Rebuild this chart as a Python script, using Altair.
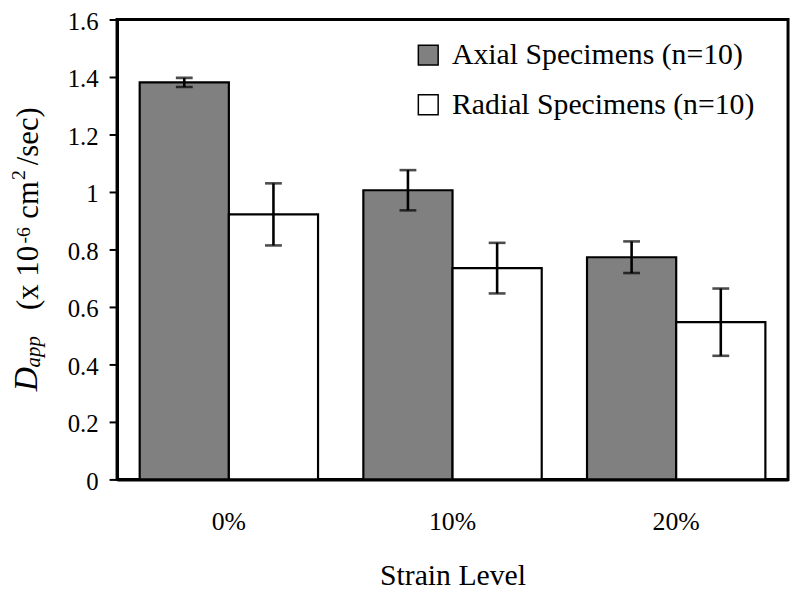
import altair as alt
import pandas as pd

categories = ["0%", "10%", "20%"]
series = ["Axial Specimens (n=10)", "Radial Specimens (n=10)"]
axial = [1.381, 1.006, 0.773]
axial_err = [0.016, 0.070, 0.055]
radial = [0.922, 0.735, 0.547]
radial_err = [0.108, 0.088, 0.117]

rows = []
for c, v, e in zip(categories, axial, axial_err):
    rows.append({"cat": c, "series": series[0], "value": v, "lo": v - e, "hi": v + e})
for c, v, e in zip(categories, radial, radial_err):
    rows.append({"cat": c, "series": series[1], "value": v, "lo": v - e, "hi": v + e})
df = pd.DataFrame(rows)

FONT = "Liberation Serif"

xenc = alt.X("cat:N", sort=categories, title="Strain Level",
             scale=alt.Scale(paddingInner=0, paddingOuter=0),
             axis=alt.Axis(labelAngle=0, ticks=False, labelPadding=30, titlePadding=26,
                           labelFontSize=26))
xoff = alt.XOffset("series:N", sort=series,
                   scale=alt.Scale(paddingInner=0, paddingOuter=0.254))
yscale = alt.Scale(domain=[0, 1.6], nice=False)

base = alt.Chart(df)

bars = base.mark_bar(stroke="black", strokeWidth=2.2).encode(
    x=xenc,
    xOffset=xoff,
    y=alt.Y("value:Q", scale=yscale, title=None,
            axis=alt.Axis(values=[0, 0.2, 0.4, 0.6, 0.8, 1.0, 1.2, 1.4, 1.6],
                          format="~g", tickSize=8, tickWidth=2, labelPadding=11,
                          labelOffset=2, labelFontSize=25)),
    color=alt.Color("series:N", sort=series,
                    scale=alt.Scale(domain=series, range=["#808080", "#ffffff"]),
                    legend=alt.Legend(title=None, orient="none", legendX=299, legendY=21,
                                      symbolType="square", symbolSize=400,
                                      symbolStrokeColor="black", symbolStrokeWidth=1.5,
                                      labelFontSize=30, labelFont=FONT, labelColor="black",
                                      labelOffset=9, rowPadding=20, padding=0,
                                      labelLimit=500)),
)

rules = base.mark_rule(color="black", strokeWidth=2.6).encode(
    x=alt.X("cat:N", sort=categories), xOffset=xoff,
    y=alt.Y("lo:Q", scale=yscale), y2="hi:Q")

caps_lo = base.mark_tick(color="black", thickness=2.6, size=17).encode(
    x=alt.X("cat:N", sort=categories), xOffset=xoff, y=alt.Y("lo:Q", scale=yscale))
caps_hi = base.mark_tick(color="black", thickness=2.6, size=17).encode(
    x=alt.X("cat:N", sort=categories), xOffset=xoff, y=alt.Y("hi:Q", scale=yscale))

one = alt.Data(values=[{"a": 1}])

def piece(txt, ybottom, xbase, size, italic=False):
    return alt.Chart(one).mark_text(
        text=txt, angle=270, align="left", baseline="alphabetic",
        font=FONT, fontSize=size, fontStyle="italic" if italic else "normal",
        color="black").encode(x=alt.value(xbase), y=alt.value(ybottom))

title_parts = [
    piece("D", 375, -81, 34, True),
    piece("app", 351, -78, 21, True),
    piece("(x 10", 293, -80, 31),
    piece("-6", 226, -88, 20),
    piece("cm", 201, -80, 31),
    piece("2", 162, -93, 20),
    piece("/sec)", 147, -80, 31),
]

chart = alt.layer(bars, rules, caps_lo, caps_hi, *title_parts).properties(
    width=677, height=464,
    autosize=alt.AutoSizeParams(type="none"),
    padding={"left": 110, "top": 9, "right": 4, "bottom": 112},
    background="white",
).configure_view(stroke="black", strokeWidth=3).configure_axis(
    grid=False, domainColor="black", domainWidth=3, tickColor="black",
    labelFont=FONT, labelColor="black",
    titleFont=FONT, titleFontSize=30, titleColor="black", titleFontWeight="normal",
)

chart.save("out.html", embed_options={"renderer": "svg", "actions": False})
